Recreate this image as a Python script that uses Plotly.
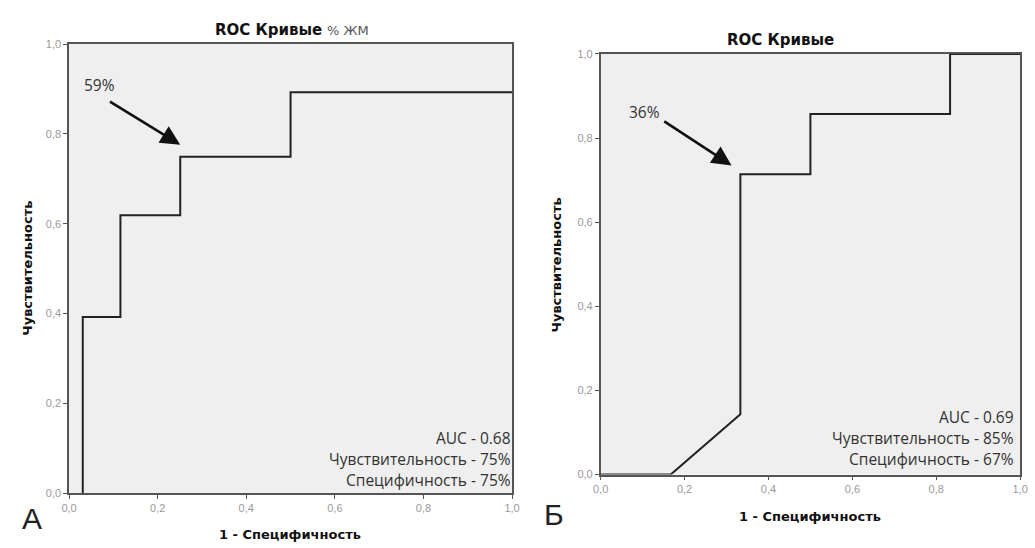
import plotly.graph_objects as go

# Data: ROC curve points (1 - specificity, sensitivity)
fpr_a = [0.031, 0.031, 0.116, 0.116, 0.251, 0.251, 0.50, 0.50, 1.0]
tpr_a = [0.0, 0.392, 0.392, 0.619, 0.619, 0.749, 0.749, 0.893, 0.893]
fpr_b = [0.0, 0.167, 0.333, 0.333, 0.50, 0.50, 0.833, 0.833, 1.0]
tpr_b = [0.0, 0.0, 0.143, 0.714, 0.714, 0.857, 0.857, 1.0, 1.0]
tick_vals = [0.0, 0.2, 0.4, 0.6, 0.8, 1.0]
tick_text = ["0,0", "0,2", "0,4", "0,6", "0,8", "1,0"]
stats_a = ["AUC - 0.68", "Чувствительность - 75%", "Специфичность - 75%"]
stats_b = ["AUC - 0.69", "Чувствительность - 85%", "Специфичность - 67%"]
title_main = "ROC Кривые"
title_suffix = "% ЖМ"
x_title = "1 - Специфичность"
y_title = "Чувствительность"
cut_labels = ["59%", "36%"]
panel_labels = ["А", "Б"]

W, H = 1035, 548
fig = go.Figure()
fig.add_trace(go.Scatter(x=fpr_a, y=tpr_a, mode="lines", line=dict(color="#222", width=2),
                         xaxis="x", yaxis="y", showlegend=False, hoverinfo="skip"))
fig.add_trace(go.Scatter(x=fpr_b, y=tpr_b, mode="lines", line=dict(color="#222", width=2),
                         xaxis="x2", yaxis="y2", showlegend=False, hoverinfo="skip"))

def px_x(p):
    return p / W

def px_y(p):
    return 1 - p / H

axis_common = dict(range=[0, 1], showgrid=False, zeroline=False, showline=True, mirror=True,
                   linecolor="#555", linewidth=1.5, ticks="outside", ticklen=4, tickcolor="#555",
                   tickvals=tick_vals, ticktext=tick_text,
                   tickfont=dict(family="Arial, Liberation Sans", size=11, color="#999"), fixedrange=True)

fig.update_layout(
    width=W, height=H, margin=dict(l=0, r=0, t=0, b=0),
    paper_bgcolor="white", plot_bgcolor="#EFEFEF",
    xaxis=dict(domain=[px_x(62), px_x(512)], anchor="y", **axis_common),
    yaxis=dict(domain=[px_y(498), px_y(39)], anchor="x", **axis_common),
    xaxis2=dict(domain=[px_x(602), px_x(1028)], anchor="y2", **axis_common),
    yaxis2=dict(domain=[px_y(479), px_y(49)], anchor="x2", **axis_common),
)

ann = []

def add_text(text, x, y, font, xanchor="center", textangle=0):
    ann.append(dict(text=text, x=px_x(x), y=px_y(y), xref="paper", yref="paper", showarrow=False,
                    xanchor=xanchor, yanchor="middle", textangle=textangle, font=font))

title_font = dict(family="DejaVu Sans", size=15, color="#111")
axis_font = dict(family="DejaVu Sans", size=13, color="#111")
reg = dict(family="Open Sans, DejaVu Sans", size=15.5, color="#333")

# titles
add_text("<b>" + title_main + "</b> <span style='color:#555;font-size:13px'>" + title_suffix + "</span>", 288, 25,
         dict(family="DejaVu Sans", size=15, color="#111"))
add_text("<b>" + title_main + "</b>", 785, 35, title_font)
# axis titles
add_text("<b>" + x_title + "</b>", 286, 540, axis_font)
add_text("<b>" + x_title + "</b>", 815, 522, axis_font)
add_text("<b>" + y_title + "</b>", 19, 268, axis_font, textangle=-90)
add_text("<b>" + y_title + "</b>", 557, 265, axis_font, textangle=-90)
# panel labels
panel_font = dict(family="Arial, Liberation Sans", size=30, color="#222")
add_text(panel_labels[0], 24, 524, panel_font)
add_text(panel_labels[1], 555, 520, panel_font)
# stats
for i, t in enumerate(stats_a):
    add_text(t, 513, 442 + 21.5 * i, reg, xanchor="right")
for i, t in enumerate(stats_b):
    add_text(t, 1024, 420 + 21.5 * i, reg, xanchor="right")
# cut-off labels and arrows
add_text(cut_labels[0], 93, 81, reg)
add_text(cut_labels[1], 646, 108, reg)
ann.append(dict(text="", x=0.251, y=0.776, xref="x", yref="y", ax=0.089, ay=0.874, axref="x", ayref="y",
                showarrow=True, arrowhead=2, arrowsize=1.5, arrowwidth=2.6, arrowcolor="#111"))
ann.append(dict(text="", x=0.312, y=0.735, xref="x2", yref="y2", ax=0.148, ay=0.842, axref="x2", ayref="y2",
                showarrow=True, arrowhead=2, arrowsize=1.5, arrowwidth=2.6, arrowcolor="#111"))

fig.update_layout(annotations=ann)
fig.write_html("out.html")
